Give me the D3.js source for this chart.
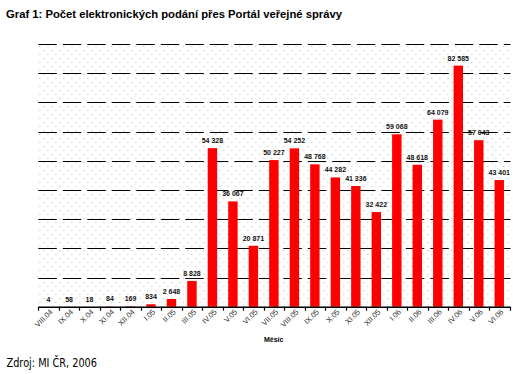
<!DOCTYPE html>
<html>
<head>
<meta charset="utf-8">
<script src="https://cdn.jsdelivr.net/npm/d3@7"></script>
<style>
  body { margin: 0; background: #fff; }
  svg { display: block; }
</style>
</head>
<body>
<svg id="main" width="520" height="374"></svg>
<script>
"use strict";

//data
const months = [
  "VIII.04", "IX.04", "X.04", "XI.04", "XII.04",
  "I.05", "II.05", "III.05", "IV.05", "V.05", "VI.05",
  "VII.05", "VIII.05", "IX.05", "X.05", "XI.05", "XII.05",
  "I.06", "II.06", "III.06", "IV.06", "V.06", "VI.06"
];
const submissions = [
  4, 58, 18, 84, 169,
  834, 2648, 8828, 54328, 36067, 20871,
  50227, 54252, 48768, 44282, 41336, 32422,
  59068, 48618, 64079, 82585, 57043, 43401
];
const gridTicks = [10000, 20000, 30000, 40000, 50000, 60000, 70000, 80000, 90000];

const titleText = "Graf 1: Počet elektronických podání přes Portál veřejné správy";
const sourceText = "Zdroj: MI ČR, 2006";
const axisTitle = "Měsíc";

//layout
const plot = { left: 38.3, right: 509.5, top: 44, bottom: 306.7 };
const font = "'Liberation Sans', Arial, sans-serif";

const mySvg = d3.select("#main");

//scales
const x = d3.scaleBand()
  .domain(months)
  .range([plot.left, plot.right])
  .paddingInner(0.54)
  .paddingOuter(0.27);
const y = d3.scaleLinear()
  .domain([0, 90000])
  .range([plot.bottom, plot.top]);

//dotted background
const pat = mySvg.append("defs").append("pattern")
  .attr("id", "dots")
  .attr("patternUnits", "userSpaceOnUse")
  .attr("width", 8)
  .attr("height", 8)
  .attr("x", plot.left)
  .attr("y", plot.top);
[[1, 2], [5, 6]].forEach((p) => {
  pat.append("rect")
    .attr("x", p[0]).attr("y", p[1])
    .attr("width", 1).attr("height", 1)
    .attr("fill", "#bdbdbd");
});

mySvg.append("rect")
  .attr("x", plot.left)
  .attr("y", plot.top)
  .attr("width", plot.right - plot.left)
  .attr("height", plot.bottom - plot.top)
  .attr("fill", "url(#dots)");

//dashed gridlines
mySvg.append("g")
  .selectAll("line")
  .data(gridTicks)
  .enter().append("line")
  .attr("x1", plot.left)
  .attr("x2", plot.right + 1)
  .attr("y1", (d) => Math.round(y(d)) + 0.5)
  .attr("y2", (d) => Math.round(y(d)) + 0.5)
  .attr("stroke", "#000")
  .attr("stroke-width", 1)
  .attr("stroke-dasharray", "18.5 6");

//bars
mySvg.append("g")
  .selectAll("rect")
  .data(submissions)
  .enter().append("rect")
  .attr("x", (d, i) => x(months[i]))
  .attr("y", (d) => y(d))
  .attr("width", x.bandwidth())
  .attr("height", (d) => y(0) - y(d))
  .attr("fill", "#ff0000");

//value labels
const fmt = (v) => d3.format(",")(v).replace(/,/g, " ");
mySvg.append("g")
  .selectAll("text")
  .data(submissions)
  .enter().append("text")
  .attr("x", (d, i) => x(months[i]) + x.bandwidth() / 2)
  .attr("y", (d) => y(d) - 5)
  .attr("text-anchor", "middle")
  .style("font-family", font)
  .style("font-weight", "bold")
  .style("font-size", "7px")
  .attr("fill", "#111")
  .text(fmt);

//x axis
const xAxis = mySvg.append("g")
  .attr("transform", `translate(0,${plot.bottom})`)
  .call(d3.axisBottom(x).tickSizeInner(0).tickSizeOuter(0).tickPadding(4));
xAxis.select(".domain")
  .attr("stroke", "#000")
  .attr("stroke-width", 1.5);
xAxis.selectAll("text")
  .attr("text-anchor", "end")
  .attr("dx", "-0.1em")
  .attr("dy", "0.45em")
  .attr("transform", "rotate(-45)")
  .style("font-family", font)
  .style("font-size", "7.5px")
  .attr("fill", "#333");

//ticks between categories
const step = x.step();
mySvg.append("g")
  .selectAll("line")
  .data(d3.range(months.length + 1))
  .enter().append("line")
  .attr("x1", (d) => Math.round(plot.left + d * step) + 0.5)
  .attr("x2", (d) => Math.round(plot.left + d * step) + 0.5)
  .attr("y1", plot.bottom)
  .attr("y2", plot.bottom + 4)
  .attr("stroke", "#000")
  .attr("stroke-width", 1.2);

//texts
mySvg.append("text")
  .attr("x", 6)
  .attr("y", 18)
  .attr("textLength", 336)
  .attr("lengthAdjust", "spacingAndGlyphs")
  .style("font-family", font)
  .style("font-weight", "bold")
  .style("font-size", "10.5px")
  .attr("fill", "#000")
  .text(titleText);

mySvg.append("text")
  .attr("x", 264)
  .attr("y", 341.5)
  .style("font-family", font)
  .style("font-weight", "bold")
  .style("font-size", "7px")
  .attr("fill", "#000")
  .text(axisTitle);

mySvg.append("text")
  .attr("x", 6.5)
  .attr("y", 367)
  .attr("textLength", 90.5)
  .attr("lengthAdjust", "spacingAndGlyphs")
  .style("font-family", "'DejaVu Sans', Verdana, sans-serif")
  .style("font-size", "11.5px")
  .attr("fill", "#000")
  .text(sourceText);
</script>
</body>
</html>
